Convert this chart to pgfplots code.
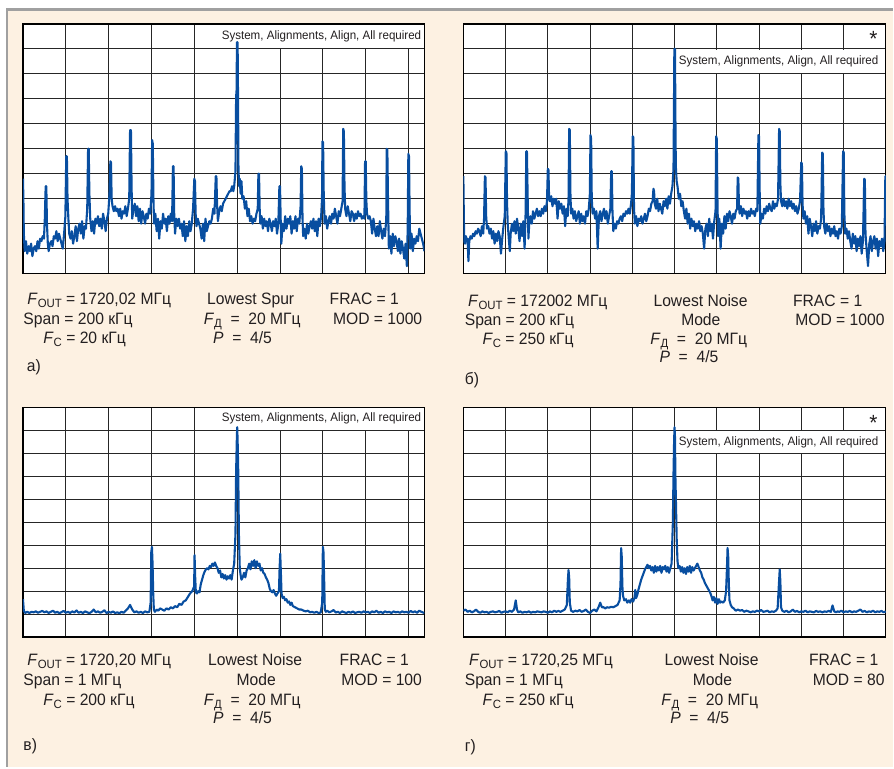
\documentclass[border=0pt]{standalone}
\usepackage{fontspec}
\setmainfont{Liberation Sans}[FakeStretch=0.95]
\usepackage{pgfplots}
\pgfplotsset{compat=1.18}

\definecolor{cream}{RGB}{253,241,226}
\definecolor{frame}{RGB}{160,160,160}
\definecolor{trace}{RGB}{8,78,160}
\definecolor{ink}{RGB}{35,31,32}

\newcommand\sub[1]{\raisebox{-0.35ex}{\fontsize{12}{12}\selectfont #1}}
\newcommand\txt{\fontsize{16.5}{18}\selectfont}

\pgfplotsset{
  spec/.style={
    scale only axis, anchor=south west,
    xmin=0, ymin=0, ymax=10,
    xtick={1,...,9}, ytick={1,...,9},
    xticklabels={}, yticklabels={},
    major tick length=0pt,
    grid=major,
    major grid style={line width=1pt, black!85},
    axis line style={line width=1.3pt, black},
    axis background/.style={fill=white},
  },
  tr/.style={trace, line width=2.1pt, line join=round, no markers},
}

\begin{document}
\begin{tikzpicture}
\fill[white] (0pt,0pt) rectangle (894pt,768pt);
\fill[cream] (7pt,0pt) rectangle (894pt,758.5pt);
\draw[frame, line width=2.5pt] (7pt,0pt) -- (7pt,758.5pt) -- (894pt,758.5pt);

% ---- a) ----
\begin{axis}[spec, at={(23pt,494pt)}, width=402pt, height=250pt, xmax=9.37]
\fill[white] (axis cs:4.02,9.03) rectangle (axis cs:9.35,9.96);
\node[anchor=east, ink, font=\fontsize{12.2}{12}\selectfont, inner sep=0pt] at (axis cs:9.30,9.52) {System, Alignments, Align, All required};
\addplot[tr] coordinates {
(0.00,3.8)(0.01,3.0)(0.02,1.6)(0.04,0.9)(0.07,1.3)(0.10,0.8)(0.13,1.1)(0.16,0.9)(0.19,1.2)(0.22,0.7)
(0.25,1.0)(0.28,1.1)(0.31,0.9)(0.34,1.3)(0.37,1.0)(0.40,1.4)(0.43,1.3)(0.46,1.5)(0.49,1.4)(0.51,2.2)
(0.53,3.5)(0.545,3.5)(0.56,2.0)(0.58,1.2)(0.60,0.9)(0.63,1.2)(0.66,1.3)(0.69,1.1)(0.72,1.5)(0.75,1.4)
(0.78,1.7)(0.81,1.3)(0.84,1.6)(0.87,1.4)(0.90,1.2)(0.93,1.0)(0.96,1.6)(0.99,2.3)(1.01,4.7)(1.025,4.7)
(1.04,3.0)(1.06,2.2)(1.08,1.6)(1.11,1.4)(1.14,1.7)(1.17,1.2)(1.20,1.5)(1.23,1.9)(1.26,1.3)(1.29,1.8)
(1.32,2.0)(1.35,1.6)(1.38,2.1)(1.41,1.4)(1.44,1.9)(1.47,1.8)(1.50,2.6)(1.52,5.0)(1.535,5.0)(1.55,3.2)
(1.57,2.2)(1.60,1.7)(1.63,2.1)(1.66,1.6)(1.69,2.2)(1.72,2.0)(1.75,2.3)(1.78,1.9)(1.81,2.2)(1.84,1.8)
(1.87,2.4)(1.90,2.1)(1.93,1.7)(1.96,2.2)(1.99,2.4)(2.02,3.2)(2.04,4.5)(2.055,4.45)(2.07,3.0)(2.09,2.7)
(2.12,2.5)(2.15,2.7)(2.18,2.5)(2.21,2.6)(2.24,2.3)(2.27,2.6)(2.30,2.2)(2.33,2.5)(2.36,2.4)(2.39,2.7)
(2.42,2.3)(2.45,2.6)(2.48,3.0)(2.50,5.75)(2.52,5.75)(2.535,3.5)(2.55,2.2)(2.58,2.6)(2.61,2.8)(2.64,2.3)
(2.67,2.7)(2.70,2.1)(2.73,2.6)(2.76,2.0)(2.79,2.5)(2.82,2.3)(2.85,2.0)(2.88,2.4)(2.91,2.2)(2.94,2.6)
(2.97,2.4)(3.00,3.2)(3.015,5.35)(3.03,5.2)(3.045,3.0)(3.06,2.0)(3.09,2.4)(3.12,1.7)(3.15,2.2)(3.18,1.4)
(3.21,2.1)(3.24,1.8)(3.27,2.4)(3.30,2.0)(3.33,2.2)(3.36,1.7)(3.39,2.3)(3.42,2.0)(3.45,2.4)(3.48,2.1)
(3.50,4.3)(3.515,4.3)(3.53,2.4)(3.55,1.6)(3.58,2.2)(3.61,1.9)(3.64,2.2)(3.67,1.8)(3.70,2.0)(3.73,1.5)
(3.76,2.1)(3.79,1.3)(3.82,1.9)(3.85,1.5)(3.88,2.1)(3.91,1.7)(3.94,2.0)(3.97,2.6)(4.00,3.8)(4.015,3.7)
(4.03,2.4)(4.05,1.9)(4.08,2.2)(4.11,2.0)(4.14,1.8)(4.17,1.4)(4.20,2.0)(4.23,1.3)(4.26,2.2)(4.29,1.7)
(4.32,1.9)(4.35,2.1)(4.38,2.0)(4.41,2.2)(4.44,2.6)(4.47,2.4)(4.50,3.9)(4.515,3.9)(4.53,2.8)(4.55,2.1)
(4.58,2.5)(4.61,2.7)(4.64,2.5)(4.67,2.8)(4.70,2.9)(4.73,3.0)(4.76,3.1)(4.79,3.2)(4.82,3.3)(4.85,3.3)
(4.88,3.5)(4.91,3.3)(4.93,3.5)(4.96,4.1)(4.975,7.1)(4.985,7.3)(4.995,9.27)(5.01,9.27)(5.02,7.0)(5.03,4.2)
(5.045,3.5)(5.06,3.8)(5.08,3.2)(5.10,3.7)(5.12,3.0)(5.15,3.1)(5.18,2.6)(5.21,2.9)(5.24,2.3)(5.27,2.6)
(5.30,2.1)(5.33,2.3)(5.36,2.0)(5.39,2.2)(5.42,2.1)(5.45,2.4)(5.48,2.6)(5.495,4.0)(5.51,4.0)(5.525,2.6)
(5.54,2.0)(5.57,2.3)(5.60,1.8)(5.63,2.2)(5.66,1.9)(5.69,2.1)(5.72,1.7)(5.75,2.2)(5.78,2.0)(5.81,1.7)
(5.84,2.1)(5.87,1.9)(5.90,2.2)(5.93,1.6)(5.96,2.0)(5.985,3.5)(6.00,3.5)(6.015,2.2)(6.03,1.2)(6.06,2.0)
(6.09,1.7)(6.12,2.3)(6.15,1.8)(6.18,2.2)(6.21,2.0)(6.24,2.3)(6.27,1.6)(6.30,2.1)(6.33,1.8)(6.36,2.3)
(6.39,1.7)(6.42,2.2)(6.45,2.0)(6.48,2.7)(6.495,4.3)(6.51,4.2)(6.525,2.2)(6.54,1.5)(6.57,1.8)(6.60,1.4)
(6.63,2.0)(6.66,1.6)(6.69,1.9)(6.72,2.1)(6.75,1.8)(6.78,2.2)(6.81,1.7)(6.84,2.1)(6.87,1.5)(6.90,2.2)
(6.93,1.9)(6.96,2.3)(6.98,3.0)(6.99,5.3)(7.005,5.25)(7.02,3.2)(7.04,2.0)(7.07,2.3)(7.10,1.8)(7.13,2.1)
(7.16,2.3)(7.19,2.0)(7.22,2.4)(7.25,2.2)(7.28,2.6)(7.31,2.3)(7.34,2.0)(7.37,2.5)(7.40,2.3)(7.43,2.6)
(7.46,2.9)(7.475,5.8)(7.49,5.7)(7.505,3.5)(7.52,2.6)(7.55,2.3)(7.58,2.7)(7.61,2.4)(7.64,2.1)(7.67,2.5)
(7.70,2.4)(7.73,2.1)(7.76,2.4)(7.79,2.2)(7.82,2.5)(7.85,2.3)(7.88,2.4)(7.91,2.2)(7.94,2.3)(7.97,2.2)
(7.985,4.5)(8.00,4.5)(8.015,2.9)(8.03,2.4)(8.06,2.2)(8.09,2.3)(8.12,2.1)(8.15,1.6)(8.18,2.2)(8.21,1.8)
(8.24,1.5)(8.27,1.9)(8.30,1.5)(8.33,2.1)(8.36,1.7)(8.39,1.4)(8.42,1.8)(8.45,1.5)(8.48,2.2)(8.49,5.0)
(8.505,4.95)(8.52,3.0)(8.54,1.0)(8.57,1.5)(8.60,0.8)(8.63,1.6)(8.66,1.1)(8.69,1.5)(8.72,1.3)(8.75,0.9)
(8.78,1.4)(8.81,0.8)(8.84,1.3)(8.87,1.0)(8.90,0.6)(8.93,1.2)(8.96,0.3)(8.98,1.8)(8.995,4.8)(9.01,4.7)
(9.025,2.5)(9.04,1.0)(9.07,1.6)(9.10,0.9)(9.13,1.4)(9.16,1.2)(9.19,1.5)(9.22,1.3)(9.25,1.8)(9.28,1.6)
(9.31,1.4)(9.34,1.2)(9.37,0.9)
};
\end{axis}

% ---- b) ----
\begin{axis}[spec, at={(464pt,494pt)}, width=423pt, height=250pt, xmax=10]
\fill[white] (axis cs:5.08,8.03) rectangle (axis cs:9.97,8.97);
\node[anchor=east, ink, font=\fontsize{12.2}{12}\selectfont, inner sep=0pt] at (axis cs:9.83,8.50) {System, Alignments, Align, All required};
\node[ink, font=\fontsize{22}{22}\selectfont, inner sep=0pt] at (axis cs:9.71,9.40) {*};
\addplot[tr] coordinates {
(0.00,3.9)(0.01,2.5)(0.02,1.3)(0.04,1.2)(0.06,1.5)(0.08,1.3)(0.10,1.4)(0.12,0.5)(0.14,1.3)(0.17,1.5)
(0.20,1.4)(0.23,1.6)(0.26,1.5)(0.29,1.7)(0.32,1.6)(0.35,1.8)(0.38,1.7)(0.41,1.5)(0.44,1.9)(0.47,1.6)
(0.49,2.2)(0.51,3.9)(0.525,3.85)(0.54,2.3)(0.56,1.8)(0.59,1.9)(0.62,1.6)(0.65,1.8)(0.68,1.4)(0.71,1.7)
(0.74,1.2)(0.77,1.6)(0.80,1.3)(0.83,1.7)(0.86,1.5)(0.89,0.8)(0.92,1.4)(0.95,1.9)(0.98,2.3)(1.005,4.9)
(1.02,4.85)(1.035,2.8)(1.05,2.0)(1.08,1.3)(1.10,0.9)(1.12,1.6)(1.15,2.0)(1.18,1.7)(1.21,2.1)(1.24,1.6)
(1.27,2.2)(1.30,1.8)(1.33,1.3)(1.36,2.0)(1.39,1.5)(1.42,2.1)(1.45,1.0)(1.475,2.5)(1.49,4.9)(1.505,4.9)
(1.52,3.3)(1.54,1.4)(1.56,2.0)(1.59,2.3)(1.62,2.0)(1.65,2.5)(1.68,2.2)(1.71,2.4)(1.74,2.6)(1.77,2.3)
(1.80,2.5)(1.83,2.3)(1.86,2.6)(1.89,2.4)(1.92,2.7)(1.95,2.5)(1.98,2.9)(2.00,4.2)(2.015,4.15)(2.03,3.0)
(2.05,2.9)(2.08,3.1)(2.11,2.7)(2.14,3.0)(2.17,2.8)(2.20,3.0)(2.23,2.2)(2.26,2.9)(2.29,2.6)(2.32,2.8)
(2.35,2.4)(2.38,2.7)(2.41,1.9)(2.44,2.6)(2.47,2.3)(2.49,3.0)(2.505,5.8)(2.52,5.75)(2.535,3.2)(2.55,2.4)
(2.58,2.6)(2.61,2.2)(2.64,2.5)(2.67,2.1)(2.70,2.3)(2.73,2.5)(2.76,2.0)(2.79,2.4)(2.82,2.1)(2.85,2.3)
(2.88,2.0)(2.91,2.5)(2.94,2.3)(2.97,2.6)(2.995,3.2)(3.01,5.55)(3.025,5.4)(3.04,3.0)(3.06,2.4)(3.09,2.6)
(3.12,2.2)(3.15,2.5)(3.18,1.0)(3.21,2.3)(3.24,2.5)(3.27,2.1)(3.30,2.4)(3.33,2.6)(3.36,2.2)(3.39,2.5)
(3.42,2.0)(3.45,2.3)(3.48,2.6)(3.50,4.1)(3.515,4.1)(3.53,2.5)(3.55,1.7)(3.58,2.0)(3.61,1.8)(3.64,2.1)
(3.67,2.0)(3.70,2.2)(3.73,2.3)(3.76,2.1)(3.79,2.4)(3.82,2.3)(3.85,2.5)(3.88,2.4)(3.91,2.6)(3.94,2.4)
(3.97,2.8)(3.99,3.2)(4.01,5.5)(4.025,5.45)(4.04,2.6)(4.06,2.0)(4.09,2.3)(4.12,1.9)(4.15,2.2)(4.18,2.1)
(4.21,2.3)(4.24,2.0)(4.27,2.2)(4.30,2.4)(4.33,2.1)(4.36,2.3)(4.39,2.6)(4.42,2.5)(4.45,2.8)(4.48,2.9)
(4.50,3.4)(4.515,3.3)(4.53,2.8)(4.56,2.6)(4.59,3.0)(4.62,2.5)(4.65,2.8)(4.68,2.6)(4.71,2.4)(4.74,2.9)
(4.77,2.7)(4.80,3.0)(4.83,2.6)(4.86,3.1)(4.89,2.8)(4.92,3.2)(4.95,3.5)(4.975,4.2)(4.985,6.5)(4.995,9.0)
(5.01,9.0)(5.02,6.3)(5.03,4.3)(5.05,3.7)(5.07,3.5)(5.10,3.0)(5.13,3.2)(5.16,2.7)(5.19,2.9)(5.22,2.5)
(5.25,2.2)(5.28,2.6)(5.31,2.0)(5.34,2.4)(5.37,1.8)(5.40,2.2)(5.43,1.9)(5.46,2.1)(5.49,1.7)(5.52,2.0)
(5.55,1.8)(5.58,2.1)(5.61,1.7)(5.64,1.9)(5.67,1.6)(5.70,1.0)(5.73,1.8)(5.76,2.0)(5.79,1.5)(5.82,2.2)
(5.85,1.7)(5.88,2.0)(5.91,1.4)(5.94,2.1)(5.97,2.5)(5.985,5.5)(6.00,5.4)(6.015,3.0)(6.03,1.5)(6.06,2.2)
(6.09,1.0)(6.12,2.0)(6.15,1.6)(6.18,2.3)(6.21,1.8)(6.24,2.4)(6.27,2.1)(6.30,2.5)(6.33,2.3)(6.36,2.0)
(6.39,2.4)(6.42,2.2)(6.45,2.5)(6.48,2.6)(6.495,3.85)(6.51,3.8)(6.525,2.7)(6.54,2.4)(6.57,2.7)(6.60,2.3)
(6.63,2.6)(6.66,2.4)(6.69,2.5)(6.72,2.2)(6.75,2.5)(6.78,2.3)(6.81,2.6)(6.84,2.4)(6.87,2.5)(6.90,2.3)
(6.93,2.6)(6.96,2.5)(6.985,5.55)(7.00,5.5)(7.015,3.3)(7.03,2.0)(7.06,2.4)(7.09,2.2)(7.12,2.6)(7.15,2.4)
(7.18,2.7)(7.21,2.5)(7.24,2.8)(7.27,2.6)(7.30,2.5)(7.33,2.9)(7.36,2.6)(7.39,2.8)(7.42,2.7)(7.45,3.0)
(7.475,5.8)(7.49,5.7)(7.505,3.6)(7.52,2.9)(7.55,2.7)(7.58,3.0)(7.61,2.7)(7.64,2.9)(7.67,2.6)(7.70,3.0)
(7.73,2.7)(7.76,2.9)(7.79,2.6)(7.82,2.8)(7.85,2.5)(7.88,2.7)(7.91,2.4)(7.94,2.6)(7.97,2.9)(8.00,4.45)
(8.015,4.4)(8.03,2.8)(8.05,2.2)(8.08,2.5)(8.11,2.0)(8.14,2.3)(8.17,1.6)(8.20,2.2)(8.23,1.9)(8.26,1.5)
(8.29,2.0)(8.32,1.7)(8.35,2.1)(8.38,1.6)(8.41,1.9)(8.44,1.8)(8.47,2.2)(8.495,4.85)(8.51,4.8)(8.525,2.6)
(8.54,1.9)(8.57,1.6)(8.60,2.0)(8.63,1.7)(8.66,1.9)(8.69,1.5)(8.72,1.8)(8.75,1.6)(8.78,1.9)(8.81,1.5)
(8.84,1.7)(8.87,1.4)(8.90,1.8)(8.93,1.6)(8.96,1.9)(8.99,4.9)(9.005,4.85)(9.02,2.4)(9.04,1.6)(9.07,1.8)
(9.10,1.4)(9.13,1.7)(9.16,1.3)(9.19,1.0)(9.22,1.6)(9.25,1.2)(9.28,1.5)(9.31,0.9)(9.34,1.4)(9.37,1.1)
(9.40,1.5)(9.43,0.8)(9.46,1.3)(9.49,3.8)(9.505,3.75)(9.52,1.6)(9.55,0.9)(9.58,0.3)(9.61,1.2)(9.64,1.5)
(9.67,0.9)(9.70,1.3)(9.73,1.5)(9.76,1.0)(9.79,1.4)(9.82,0.7)(9.85,1.3)(9.88,1.1)(9.91,1.4)(9.94,0.9)
(9.97,1.3)(9.99,3.9)(10.00,3.9)
};
\end{axis}

% ---- c) ----
\begin{axis}[spec, at={(23pt,130pt)}, width=402pt, height=230pt, xmax=9.37]
\fill[white] (axis cs:4.02,9.03) rectangle (axis cs:9.35,9.96);
\node[anchor=east, ink, font=\fontsize{12.2}{12}\selectfont, inner sep=0pt] at (axis cs:9.30,9.52) {System, Alignments, Align, All required};
\addplot[tr] coordinates {
(0.00,1.65)(0.02,1.15)(0.05,1.05)(0.10,1.1)(0.15,1.05)(0.20,1.1)(0.25,1.08)(0.30,1.12)(0.35,1.06)(0.40,1.1)
(0.45,1.14)(0.50,1.08)(0.55,1.12)(0.60,1.05)(0.65,1.1)(0.70,1.15)(0.75,1.06)(0.80,1.1)(0.85,1.04)(0.90,1.09)
(0.95,1.14)(1.00,1.06)(1.05,1.1)(1.10,1.05)(1.15,1.12)(1.20,1.07)(1.25,1.16)(1.30,1.06)(1.35,1.1)(1.40,1.05)
(1.45,1.12)(1.50,1.08)(1.55,1.04)(1.60,1.1)(1.65,1.2)(1.70,1.08)(1.75,1.12)(1.80,1.06)(1.85,1.1)(1.90,1.17)
(1.95,1.05)(2.00,1.1)(2.05,1.06)(2.10,1.12)(2.15,1.05)(2.20,1.08)(2.25,1.04)(2.30,1.1)(2.35,1.06)(2.40,1.15)
(2.45,1.25)(2.50,1.4)(2.55,1.2)(2.60,1.08)(2.65,1.12)(2.70,1.06)(2.75,1.1)(2.80,1.05)(2.85,1.12)(2.90,1.08)
(2.95,1.1)(2.98,1.5)(2.995,3.7)(3.01,3.93)(3.025,3.2)(3.04,1.9)(3.055,1.2)(3.08,1.1)(3.12,1.2)(3.16,1.15)
(3.20,1.25)(3.25,1.2)(3.30,1.15)(3.35,1.25)(3.40,1.2)(3.45,1.3)(3.50,1.25)(3.55,1.35)(3.60,1.3)(3.65,1.45)
(3.70,1.4)(3.75,1.55)(3.80,1.6)(3.85,1.75)(3.90,1.9)(3.95,2.0)(3.995,2.2)(4.005,3.57)(4.02,2.6)(4.035,1.95)
(4.06,1.9)(4.09,2.0)(4.12,1.95)(4.15,2.3)(4.18,2.5)(4.21,2.7)(4.24,2.85)(4.27,2.95)(4.30,3.0)(4.33,2.95)
(4.36,3.1)(4.39,3.05)(4.42,3.2)(4.45,3.1)(4.48,3.25)(4.51,3.1)(4.54,3.0)(4.57,2.8)(4.60,2.9)(4.63,2.6)
(4.66,2.75)(4.69,2.55)(4.72,2.7)(4.75,2.5)(4.78,2.65)(4.81,2.55)(4.84,2.7)(4.87,2.5)(4.90,2.9)(4.93,3.2)
(4.96,4.5)(4.975,7.2)(4.99,8.5)(5.00,9.14)(5.01,8.6)(5.025,7.2)(5.04,4.5)(5.06,3.0)(5.08,2.7)(5.10,2.5)
(5.13,2.6)(5.16,2.8)(5.19,2.6)(5.22,2.9)(5.25,3.0)(5.28,3.2)(5.31,2.95)(5.34,3.3)(5.37,3.1)(5.40,3.35)
(5.43,3.0)(5.46,3.3)(5.49,3.1)(5.52,3.2)(5.55,2.9)(5.58,3.0)(5.61,2.8)(5.64,2.75)(5.67,2.6)(5.70,2.5)
(5.73,2.35)(5.76,2.1)(5.79,2.0)(5.82,1.95)(5.85,2.05)(5.88,1.9)(5.91,1.8)(5.94,1.9)(5.975,2.0)(5.99,3.0)
(6.005,3.63)(6.02,2.8)(6.035,1.9)(6.06,1.7)(6.09,1.75)(6.12,1.6)(6.15,1.65)(6.18,1.5)(6.21,1.55)(6.24,1.4)
(6.27,1.5)(6.30,1.35)(6.35,1.3)(6.40,1.25)(6.45,1.2)(6.50,1.2)(6.55,1.15)(6.60,1.12)(6.65,1.15)(6.70,1.08)
(6.75,1.1)(6.80,1.06)(6.85,1.1)(6.90,1.05)(6.95,1.07)(6.985,1.5)(7.00,3.93)(7.015,3.7)(7.03,2.5)(7.045,1.2)
(7.07,1.1)(7.10,1.15)(7.15,1.08)(7.20,1.12)(7.25,1.18)(7.30,1.07)(7.35,1.1)(7.40,1.05)(7.45,1.12)(7.50,1.08)
(7.55,1.05)(7.60,1.1)(7.65,1.06)(7.70,1.12)(7.75,1.05)(7.80,1.08)(7.85,1.1)(7.90,1.06)(7.95,1.12)(8.00,1.08)
(8.05,1.1)(8.10,1.05)(8.15,1.12)(8.20,1.08)(8.25,1.15)(8.30,1.06)(8.35,1.1)(8.40,1.05)(8.45,1.12)(8.50,1.08)
(8.55,1.1)(8.60,1.05)(8.65,1.12)(8.70,1.08)(8.75,1.1)(8.80,1.06)(8.85,1.12)(8.90,1.08)(8.95,1.1)(9.00,1.06)
(9.05,1.14)(9.10,1.08)(9.15,1.12)(9.20,1.06)(9.25,1.15)(9.30,1.1)(9.37,1.05)
};
\end{axis}

% ---- d) ----
\begin{axis}[spec, at={(464pt,130pt)}, width=423pt, height=230pt, xmax=10]
\fill[white] (axis cs:5.08,8.03) rectangle (axis cs:9.97,8.97);
\node[anchor=east, ink, font=\fontsize{12.2}{12}\selectfont, inner sep=0pt] at (axis cs:9.83,8.50) {System, Alignments, Align, All required};
\node[ink, font=\fontsize{22}{22}\selectfont, inner sep=0pt] at (axis cs:9.71,9.33) {*};
\addplot[tr] coordinates {
(0.00,1.15)(0.05,1.2)(0.10,1.1)(0.15,1.15)(0.20,1.08)(0.25,1.12)(0.30,1.2)(0.35,1.1)(0.40,1.06)(0.45,1.12)
(0.50,1.08)(0.55,1.1)(0.60,1.05)(0.65,1.1)(0.70,1.12)(0.75,1.08)(0.80,1.1)(0.85,1.14)(0.90,1.06)(0.95,1.1)
(1.00,1.12)(1.05,1.08)(1.10,1.15)(1.15,1.1)(1.20,1.2)(1.24,1.6)(1.27,1.2)(1.30,1.08)(1.35,1.12)(1.40,1.06)
(1.45,1.1)(1.50,1.08)(1.55,1.12)(1.60,1.06)(1.65,1.1)(1.70,1.08)(1.75,1.12)(1.80,1.1)(1.85,1.08)(1.90,1.12)
(1.95,1.1)(2.00,1.06)(2.05,1.12)(2.10,1.08)(2.15,1.15)(2.20,1.1)(2.25,1.14)(2.30,1.1)(2.35,1.15)(2.40,1.2)
(2.45,1.4)(2.475,2.5)(2.49,2.92)(2.505,2.6)(2.52,1.5)(2.55,1.15)(2.60,1.1)(2.65,1.15)(2.70,1.12)(2.75,1.18)
(2.80,1.1)(2.85,1.14)(2.90,1.2)(2.95,1.1)(3.00,1.05)(3.05,1.15)(3.10,1.2)(3.15,1.12)(3.20,1.3)(3.24,1.5)
(3.28,1.3)(3.32,1.3)(3.36,1.25)(3.40,1.3)(3.45,1.28)(3.50,1.32)(3.55,1.3)(3.60,1.35)(3.65,1.4)(3.70,1.6)
(3.72,2.3)(3.735,3.88)(3.75,3.5)(3.765,2.2)(3.78,1.8)(3.81,1.6)(3.85,1.65)(3.88,1.5)(3.92,1.6)(3.95,1.5)
(3.98,1.65)(4.02,1.55)(4.05,1.7)(4.07,2.05)(4.09,1.7)(4.12,1.85)(4.15,2.1)(4.18,2.3)(4.21,2.5)(4.24,2.65)
(4.27,2.8)(4.30,2.95)(4.33,3.05)(4.36,3.15)(4.39,3.0)(4.42,3.1)(4.45,2.9)(4.48,3.05)(4.51,2.8)(4.54,3.1)
(4.57,2.85)(4.60,3.05)(4.63,2.9)(4.66,3.1)(4.69,2.8)(4.72,3.05)(4.75,2.95)(4.78,3.1)(4.81,2.85)(4.84,3.05)
(4.87,2.8)(4.90,3.0)(4.93,3.2)(4.96,5.0)(4.975,7.1)(4.99,8.6)(5.00,9.14)(5.01,8.7)(5.02,7.0)(5.035,5.7)
(5.05,4.3)(5.07,3.3)(5.09,3.0)(5.12,3.1)(5.15,2.85)(5.18,3.05)(5.21,2.8)(5.24,3.0)(5.27,2.75)(5.30,3.05)
(5.33,2.85)(5.36,3.1)(5.39,2.8)(5.42,3.05)(5.45,2.9)(5.48,3.0)(5.51,3.1)(5.54,3.2)(5.57,3.05)(5.60,2.9)
(5.63,2.8)(5.66,2.6)(5.69,2.5)(5.72,2.35)(5.75,2.25)(5.78,2.15)(5.81,2.05)(5.84,1.95)(5.87,1.8)(5.90,1.6)
(5.93,1.75)(5.96,1.5)(5.99,1.7)(6.02,1.45)(6.05,1.65)(6.08,1.5)(6.11,1.55)(6.15,1.5)(6.19,1.6)(6.22,2.0)
(6.24,3.0)(6.255,3.88)(6.27,3.5)(6.285,2.3)(6.30,1.6)(6.33,1.4)(6.36,1.3)(6.40,1.25)(6.45,1.15)(6.50,1.2)
(6.55,1.15)(6.60,1.18)(6.65,1.1)(6.70,1.15)(6.75,1.12)(6.80,1.08)(6.85,1.12)(6.90,1.1)(6.95,1.15)(7.00,1.12)
(7.05,1.18)(7.10,1.1)(7.15,1.12)(7.20,1.15)(7.25,1.08)(7.30,1.12)(7.35,1.1)(7.40,1.15)(7.44,1.25)(7.47,2.3)
(7.49,2.95)(7.505,2.4)(7.52,1.3)(7.55,1.15)(7.60,1.1)(7.65,1.15)(7.70,1.08)(7.75,1.12)(7.80,1.2)(7.85,1.1)
(7.90,1.14)(7.95,1.08)(8.00,1.12)(8.05,1.1)(8.10,1.15)(8.15,1.08)(8.20,1.12)(8.25,1.1)(8.30,1.08)(8.35,1.14)
(8.40,1.1)(8.45,1.12)(8.50,1.08)(8.55,1.12)(8.60,1.1)(8.65,1.14)(8.70,1.1)(8.74,1.38)(8.78,1.12)(8.82,1.08)
(8.86,1.12)(8.90,1.1)(8.95,1.15)(9.00,1.08)(9.05,1.12)(9.10,1.1)(9.15,1.14)(9.20,1.08)(9.25,1.12)(9.30,1.1)
(9.35,1.15)(9.40,1.2)(9.45,1.1)(9.50,1.14)(9.55,1.08)(9.60,1.12)(9.65,1.1)(9.70,1.15)(9.75,1.08)(9.80,1.12)
(9.85,1.1)(9.90,1.14)(9.95,1.08)(10.00,1.12)
};
\end{axis}

% ---- captions ----
\begin{scope}[every node/.style={anchor=base west, inner sep=0pt, text=ink, font=\txt}]
% a)
\node at (27.3pt,463pt) {\textit{F}\sub{OUT} = 1720,02 МГц};
\node at (23.3pt,443.5pt) {Span = 200 кГц};
\node at (43.3pt,424pt) {\textit{F}\sub{C} = 20 кГц};
\node at (207.3pt,463pt) {Lowest Spur};
\node at (204pt,443.5pt) {\textit{F}\sub{Д}\ \ =\ \ 20 МГц};
\node at (213.3pt,424pt) {\textit{P}\ \ =\ \ 4/5};
\node at (330pt,463pt) {FRAC = 1};
\node at (333.3pt,443.5pt) {MOD = 1000};
\node at (26.7pt,396pt) {а)};
% b)
\node at (468.7pt,461pt) {\textit{F}\sub{OUT} = 172002 МГц};
\node at (465.3pt,442pt) {Span = 200 кГц};
\node at (483pt,423pt) {\textit{F}\sub{C} = 250 кГц};
\node at (654.3pt,461pt) {Lowest Noise};
\node at (682pt,442pt) {Mode};
\node at (651pt,423pt) {\textit{F}\sub{Д}\ \ =\ \ 20 МГц};
\node at (660.3pt,405pt) {\textit{P}\ \ =\ \ 4/5};
\node at (794pt,461pt) {FRAC = 1};
\node at (796.3pt,442pt) {MOD = 1000};
\node at (465.3pt,383pt) {б)};
% c)
\node at (27.3pt,102pt) {\textit{F}\sub{OUT} = 1720,20 МГц};
\node at (23.3pt,82pt) {Span = 1 МГц};
\node at (43.3pt,62pt) {\textit{F}\sub{C} = 200 кГц};
\node at (208.3pt,102pt) {Lowest Noise};
\node at (236.7pt,82pt) {Mode};
\node at (204pt,62pt) {\textit{F}\sub{Д}\ \ =\ \ 20 МГц};
\node at (213.3pt,43pt) {\textit{P}\ \ =\ \ 4/5};
\node at (340pt,102pt) {FRAC = 1};
\node at (341.7pt,82pt) {MOD = 100};
\node at (23.3pt,16pt) {в)};
% d)
\node at (469.7pt,102pt) {\textit{F}\sub{OUT} = 1720,25 МГц};
\node at (465.3pt,82pt) {Span = 1 МГц};
\node at (483pt,62pt) {\textit{F}\sub{C} = 250 кГц};
\node at (665.3pt,102pt) {Lowest Noise};
\node at (693.7pt,82pt) {Mode};
\node at (662pt,62pt) {\textit{F}\sub{Д}\ \ =\ \ 20 МГц};
\node at (671pt,43pt) {\textit{P}\ \ =\ \ 4/5};
\node at (810pt,102pt) {FRAC = 1};
\node at (813.7pt,82pt) {MOD = 80};
\node at (465.3pt,15pt) {г)};
\end{scope}
\end{tikzpicture}
\end{document}
